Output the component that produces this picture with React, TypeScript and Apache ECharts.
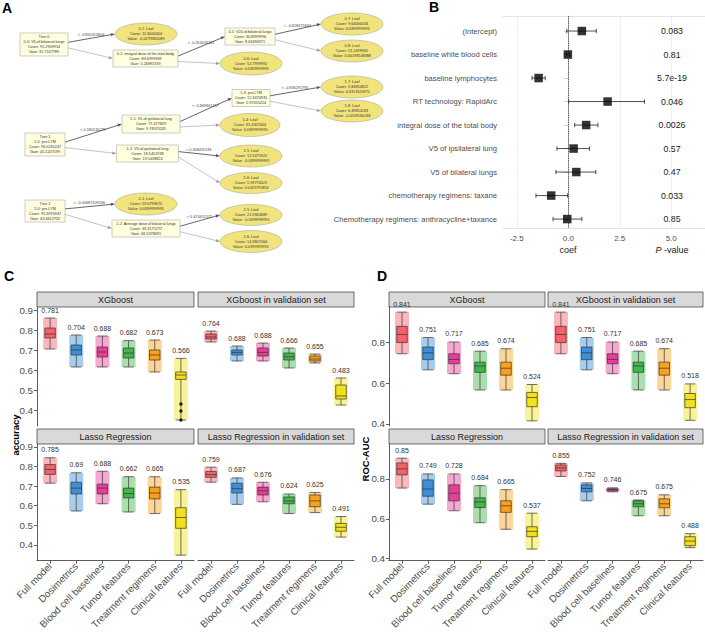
import React, { useEffect, useRef } from 'react';
import * as echarts from 'echarts';

const FONT = '"Liberation Sans", Arial, Helvetica, sans-serif';

// ---------------- Panel A: XGBoost trees ----------------
const treeNodeIds = ['T0','0-1','0-2','0-5','0-6','0-7','0-8','T1','1-1','1-2','1-3','1-4','1-5','1-6','1-7','1-8','T2','2-1','2-2','2-5','2-6'];
const treeNodeKinds = ['split','leaf','split','split','leaf','leaf','leaf','split','split','split','split','leaf','leaf','leaf','leaf','leaf','split','leaf','split','leaf','leaf'];
const treeNodeTexts = [
  ['Tree 0','0-0: V5.of.bilateral.lungs','Cover: 95.2909954','Gain: 31.7147789'],
  ['0-1: Leaf','Cover: 11.8000004','Value: -0.0279365089'],
  ['0-2: integral.dose.of.the.total.body','Cover: 83.6999969','Gain: 5.26895749'],
  ['0-5: V20.of.bilateral.lungs','Cover: 30.8999996','Gain: 8.63496971'],
  ['0-6: Leaf','Cover: 52.7999992','Value: 0.0399999991'],
  ['0-7: Leaf','Cover: 9.64000034','Value: 0.0399999991'],
  ['0-8: Leaf','Cover: 21.2499962','Value: 0.00198548388'],
  ['Tree 1','1-0: pre.LYM','Cover: 96.0231247','Gain: 45.1207199'],
  ['1-1: V5.of.ipsilateral.lung','Cover: 77.477829','Gain: 9.74970245'],
  ['1-2: V5.of.ipsilateral.lung','Cover: 18.5452938','Gain: 19.5438824'],
  ['1-3: pre.LYM','Cover: 12.3470935','Gain: 5.97055224'],
  ['1-4: Leaf','Cover: 65.4307404','Value: 0.0399999991'],
  ['1-5: Leaf','Cover: 12.5475922','Value: -0.0399999991'],
  ['1-6: Leaf','Cover: 5.99770021','Value: 0.0329795852'],
  ['1-7: Leaf','Cover: 5.84854822','Value: 0.0313520971'],
  ['1-8: Leaf','Cover: 6.49854183','Value: -0.0209560246'],
  ['Tree 2','2-0: pre.LYM','Cover: 95.3970947','Gain: 43.4612732'],
  ['2-1: Leaf','Cover: 59.0799675','Value: 0.0399999991'],
  ['2-2: Average dose of bilateral lungs','Cover: 36.3171272','Gain: 46.5378091'],
  ['2-5: Leaf','Cover: 21.9363689','Value: -0.0399999991'],
  ['2-6: Leaf','Cover: 14.3807564','Value: 0.0399999991'],
];
const treeEdgeFrom = ['T0','T0','0-2','0-2','0-5','0-5','T1','T1','1-1','1-1','1-3','1-3','1-2','1-2','T2','T2','2-2','2-2'];
const treeEdgeTo = ['0-1','0-2','0-5','0-6','0-7','0-8','1-1','1-2','1-3','1-4','1-7','1-8','1-5','1-6','2-1','2-2','2-5','2-6'];
const treeEdgeLabels = ['< -0.850313604', null, '< -0.354033113', null, '< -0.658679464', null,
  '< 0.580240279', null, '< -0.869841457', null, '< -0.836291795', null, '< 0.308459133', null,
  '< -0.00687209558', null, '< 0.474451572', null];

// diagram layout (centre x, centre y, width, height) in pixels
const NODE_BOX: Record<string, number[]> = {
  'T0': [44, 44.5, 48, 23], '0-1': [146, 34, 62, 22], '0-2': [145.5, 58.5, 65, 17],
  '0-5': [250, 36.5, 50, 17], '0-6': [251, 63.5, 62, 23], '0-7': [352, 24, 62, 22], '0-8': [352, 51, 62, 22],
  'T1': [45, 144.5, 40, 23], '1-1': [151, 124, 58, 18], '1-2': [147.5, 153.5, 62, 17],
  '1-3': [251, 98, 38, 17], '1-4': [250, 125, 60, 23], '1-5': [251, 156, 62, 22], '1-6': [251, 183, 62, 21],
  '1-7': [352, 87, 62, 22], '1-8': [352, 111, 62, 22],
  'T2': [45, 211, 40, 22], '2-1': [146, 204, 62, 22], '2-2': [146, 228.5, 68, 17],
  '2-5': [251, 215, 62, 21], '2-6': [251, 241.5, 62, 22],
};

// ---------------- Panel B: forest plot ----------------
const forestTerms = ['(Intercept)','baseline white blood cells','baseline lymphocytes','RT technology: RapidArc',
  'integral dose of the total body','V5 of ipsilateral lung','V5 of bilateral lungs','chemotherapy regimens: taxane',
  'Chemotherapy regimens: anthracycline+taxance'];
const forestCoef = [0.66, -0.02, -1.44, 1.91, 0.87, 0.26, 0.39, -0.83, -0.05];
const forestLow = [-0.07, -0.09, -1.76, 0.02, 0.31, -0.55, -0.60, -1.57, -0.74];
const forestHigh = [1.36, 0.05, -1.12, 3.70, 1.44, 1.03, 1.34, -0.03, 0.66];
const forestP = ['0.083','0.81','5.7e-19','0.046','0.0026','0.57','0.47','0.033','0.85'];
const forestTicks = [-2.5, 0, 2.5, 5];

// ---------------- Panels C & D: boxplots ----------------
const featureGroups = ['Full model','Dosimetrics','Blood cell baselines','Tumor features','Treatment regimens','Clinical features'];
const groupColors = ['#F4616A','#3F8FD6','#E83E97','#43B649','#F9A11B','#F3E21B'];
const facetTitles = ['XGboost','XGboost in validation set','Lasso Regression','Lasso Regression in validation set'];

// [min, Q1, median, Q3, max]
const accXgb = [[0.705,0.76,0.78,0.81,0.86],[0.615,0.675,0.70,0.725,0.775],[0.615,0.665,0.69,0.715,0.77],[0.615,0.66,0.685,0.71,0.747],[0.59,0.65,0.675,0.70,0.75],[0.35,0.553,0.575,0.59,0.658]];
const accXgbLabels = [0.781,0.704,0.688,0.682,0.673,0.566];
const accXgbVal = [[0.74,0.755,0.765,0.78,0.795],[0.645,0.675,0.688,0.70,0.72],[0.645,0.67,0.688,0.71,0.735],[0.61,0.65,0.666,0.685,0.71],[0.635,0.645,0.655,0.67,0.68],[0.425,0.455,0.47,0.525,0.56]];
const accXgbValLabels = [0.764,0.688,0.688,0.666,0.655,0.483];
const accLasso = [[0.715,0.76,0.785,0.81,0.845],[0.573,0.66,0.69,0.72,0.768],[0.61,0.66,0.69,0.71,0.776],[0.568,0.64,0.662,0.69,0.748],[0.56,0.635,0.665,0.695,0.748],[0.348,0.485,0.54,0.59,0.682]];
const accLassoLabels = [0.785,0.69,0.688,0.662,0.665,0.535];
const accLassoVal = [[0.72,0.745,0.759,0.775,0.797],[0.607,0.665,0.687,0.715,0.742],[0.62,0.655,0.676,0.695,0.72],[0.56,0.61,0.624,0.645,0.66],[0.565,0.595,0.625,0.655,0.668],[0.44,0.47,0.49,0.51,0.545]];
const accLassoValLabels = [0.759,0.687,0.676,0.624,0.625,0.491];
const accOutliers = [[5, 0.43],[5, 0.395],[5, 0.35]]; // XGboost, clinical features

const aucXgb = [[0.745,0.80,0.84,0.88,0.95],[0.666,0.716,0.75,0.778,0.825],[0.647,0.696,0.717,0.745,0.803],[0.567,0.654,0.685,0.704,0.758],[0.567,0.64,0.674,0.704,0.77],[0.415,0.485,0.53,0.555,0.594]];
const aucXgbLabels = [0.841,0.751,0.717,0.685,0.674,0.524];
const aucXgbVal = [[0.745,0.80,0.84,0.88,0.95],[0.666,0.716,0.75,0.778,0.825],[0.647,0.696,0.717,0.745,0.803],[0.567,0.654,0.685,0.704,0.758],[0.567,0.64,0.674,0.704,0.77],[0.418,0.48,0.52,0.55,0.597]];
const aucXgbValLabels = [0.841,0.751,0.717,0.685,0.674,0.518];
const aucLasso = [[0.754,0.82,0.85,0.88,0.904],[0.673,0.713,0.749,0.795,0.825],[0.64,0.69,0.728,0.77,0.825],[0.58,0.656,0.684,0.705,0.766],[0.547,0.632,0.665,0.69,0.746],[0.448,0.51,0.537,0.56,0.628]];
const aucLassoLabels = [0.85,0.749,0.728,0.684,0.665,0.537];
const aucLassoVal = [[0.812,0.84,0.855,0.87,0.878],[0.69,0.735,0.752,0.77,0.78],[0.735,0.74,0.746,0.75,0.755],[0.615,0.66,0.675,0.69,0.694],[0.615,0.655,0.675,0.70,0.72],[0.455,0.465,0.488,0.51,0.525]];
const aucLassoValLabels = [0.855,0.752,0.746,0.675,0.675,0.488];

const accTicks = [0.4, 0.5, 0.6, 0.7, 0.8, 0.9];
const aucTicks = [0.4, 0.6, 0.8];

function buildOption() {
  const grids: any[] = [];
  const xAxes: any[] = [];
  const yAxes: any[] = [];
  const series: any[] = [];
  const graphics: any[] = [];

  // ---------- panel letters ----------
  const letters: [string, number, number][] = [['A', 2, 1], ['B', 429, 0], ['C', 4, 269], ['D', 377, 269]];
  letters.forEach(([t, x, y]) => graphics.push({
    type: 'text', x, y, style: { text: t, fontSize: 14, fontWeight: 'bold', fill: '#000', fontFamily: FONT, align: 'left', verticalAlign: 'top' },
  }));

  // ---------- panel A ----------
  treeEdgeFrom.forEach((from, i) => {
    const to = treeEdgeTo[i];
    const lab = treeEdgeLabels[i];
    const s = NODE_BOX[from];
    const t = NODE_BOX[to];
    const yes = lab !== null;
    const x1 = s[0] + s[2] / 2 - 1, y1 = s[1] + (yes ? -2 : 3);
    const x2 = t[0] - t[2] / 2, y2 = t[1];
    const ang = Math.atan2(y2 - y1, x2 - x1);
    const L = 4.2, W = 1.6;
    const bx = x2 - L * Math.cos(ang), by = y2 - L * Math.sin(ang);
    const col = yes ? '#555' : '#9a9a9a';
    graphics.push({ type: 'line', shape: { x1, y1, x2: bx, y2: by }, style: { stroke: col, lineWidth: yes ? 0.9 : 0.6 } });
    graphics.push({ type: 'polygon', shape: { points: [[x2, y2], [bx - W * Math.sin(ang), by + W * Math.cos(ang)], [bx + W * Math.sin(ang), by - W * Math.cos(ang)]] }, style: { fill: col } });
    if (lab) {
      graphics.push({ type: 'text', x: (x1 + x2) / 2, y: (y1 + y2) / 2 - 3.6, style: { text: lab, fontSize: 3.8, fill: '#444', align: 'center', verticalAlign: 'middle', fontFamily: FONT } });
    }
  });
  treeNodeIds.forEach((id, i) => {
    const b = NODE_BOX[id];
    if (treeNodeKinds[i] === 'leaf') {
      graphics.push({ type: 'ellipse', shape: { cx: b[0], cy: b[1], rx: b[2] / 2, ry: b[3] / 2 }, style: { fill: '#F2E47C', stroke: '#9a9a9a', lineWidth: 0.5 } });
    } else {
      graphics.push({ type: 'rect', shape: { x: b[0] - b[2] / 2, y: b[1] - b[3] / 2, width: b[2], height: b[3] }, style: { fill: '#FFFFE0', stroke: '#9a9a9a', lineWidth: 0.5 } });
    }
    graphics.push({ type: 'text', x: b[0], y: b[1], style: { text: treeNodeTexts[i].join('\n'), fontSize: 3.8, lineHeight: 5, fill: '#333', align: 'center', verticalAlign: 'middle', fontFamily: FONT } });
  });

  // ---------- panel B ----------
  grids.push({ left: 503, top: 16, width: 202, height: 212 });
  const fxMin = -3.17, fxMax = 6.64;
  xAxes.push({
    type: 'value', gridIndex: 0, min: fxMin, max: fxMax,
    axisLine: { show: true, lineStyle: { color: '#e3e3e3', width: 1 } },
    axisTick: { show: false, customValues: forestTicks },
    axisLabel: { customValues: forestTicks, formatter: (v: number) => '{t|' + v.toFixed(1) + '}', rich: { t: { fontSize: 8, color: '#4d4d4d', fontFamily: FONT } }, margin: 6 },
    splitLine: { show: true, lineStyle: { color: '#ececec', width: 0.8 } },
  });
  xAxes.push({
    type: 'value', gridIndex: 0, min: fxMin, max: fxMax, position: 'top',
    axisLine: { show: true, lineStyle: { color: '#e3e3e3', width: 1 } },
    axisTick: { show: false }, axisLabel: { show: false }, splitLine: { show: false },
  });
  const rowVals = forestTerms.map((_, i) => i + 1);
  const rowMin = 0.36, rowMax = 9.38;
  yAxes.push({
    type: 'value', gridIndex: 0, min: rowMin, max: rowMax, inverse: true,
    axisLine: { show: true, lineStyle: { color: '#c8c8c8', width: 0.8 } },
    axisTick: { show: true, length: 4, customValues: rowVals, lineStyle: { color: '#c8c8c8' } },
    axisLabel: {
      customValues: rowVals, margin: 6, color: '#4d4d4d',
      formatter: (v: number) => '{t|' + forestTerms[Math.round(v) - 1] + '}',
      rich: { t: { fontSize: 7.6, color: '#4d4d4d', fontFamily: FONT } },
    },
    splitLine: { show: false },
  });
  yAxes.push({
    type: 'value', gridIndex: 0, min: rowMin, max: rowMax, inverse: true, position: 'right',
    axisLine: { show: false }, axisTick: { show: false },
    axisLabel: {
      inside: true, margin: 33, align: 'center', customValues: rowVals, color: '#1a1a1a',
      formatter: (v: number) => '{p|' + forestP[Math.round(v) - 1] + '}',
      rich: { p: { fontSize: 8.8, color: '#1a1a1a', fontFamily: FONT } },
    },
    splitLine: { show: false },
  });
  series.push({
    type: 'custom', xAxisIndex: 0, yAxisIndex: 0, z: 3,
    data: forestTerms.map((_, i) => [forestLow[i], forestHigh[i], i + 1]),
    renderItem: (params: any, api: any) => {
      const lo = api.coord([api.value(0), api.value(2)]);
      const hi = api.coord([api.value(1), api.value(2)]);
      const h = 2.2;
      const st = { stroke: '#222', lineWidth: 0.8 };
      return {
        type: 'group', children: [
          { type: 'line', shape: { x1: lo[0], y1: lo[1], x2: hi[0], y2: hi[1] }, style: st },
          { type: 'line', shape: { x1: lo[0], y1: lo[1] - h, x2: lo[0], y2: lo[1] + h }, style: st },
          { type: 'line', shape: { x1: hi[0], y1: hi[1] - h, x2: hi[0], y2: hi[1] + h }, style: st },
        ],
      };
    },
  });
  series.push({
    type: 'scatter', xAxisIndex: 0, yAxisIndex: 0, z: 4,
    symbol: 'rect', symbolSize: 8.5, itemStyle: { color: '#000' },
    data: forestCoef.map((c, i) => [c, i + 1]),
    markLine: {
      silent: true, symbol: 'none', label: { show: false },
      lineStyle: { type: 'dotted', color: '#333', width: 0.9 },
      data: [{ xAxis: 0 }],
    },
  });
  graphics.push({ type: 'text', x: 568, y: 250, style: { text: 'coef', fontSize: 9, fill: '#1a1a1a', align: 'center', verticalAlign: 'middle', fontFamily: FONT } });
  graphics.push({ type: 'text', x: 672, y: 250, style: { text: '{i|P} -value', fontSize: 9, fill: '#1a1a1a', align: 'center', verticalAlign: 'middle', fontFamily: FONT, rich: { i: { fontStyle: 'italic', fontSize: 9, fontFamily: FONT, fill: '#1a1a1a' } } } });

  // ---------- panels C & D ----------
  const facets = [
    { stats: accXgb, labels: accXgbLabels, left: 37, width: 157, top: 307, col: 0, row: 0, range: [0.32, 0.915], ticks: accTicks, outliers: accOutliers },
    { stats: accXgbVal, labels: accXgbValLabels, left: 198, width: 156, top: 307, col: 1, row: 0, range: [0.32, 0.915], ticks: accTicks, outliers: [] },
    { stats: accLasso, labels: accLassoLabels, left: 37, width: 157, top: 444, col: 0, row: 1, range: [0.32, 0.915], ticks: accTicks, outliers: [] },
    { stats: accLassoVal, labels: accLassoValLabels, left: 198, width: 156, top: 444, col: 1, row: 1, range: [0.32, 0.915], ticks: accTicks, outliers: [] },
    { stats: aucXgb, labels: aucXgbLabels, left: 389, width: 156, top: 307, col: 0, row: 0, range: [0.39, 0.975], ticks: aucTicks, outliers: [] },
    { stats: aucXgbVal, labels: aucXgbValLabels, left: 548, width: 155, top: 307, col: 1, row: 0, range: [0.39, 0.975], ticks: aucTicks, outliers: [] },
    { stats: aucLasso, labels: aucLassoLabels, left: 389, width: 156, top: 444, col: 0, row: 1, range: [0.39, 0.975], ticks: aucTicks, outliers: [] },
    { stats: aucLassoVal, labels: aucLassoValLabels, left: 548, width: 155, top: 444, col: 1, row: 1, range: [0.39, 0.975], ticks: aucTicks, outliers: [] },
  ];
  const H = 119;
  const axisCol = '#333';
  facets.forEach((f) => {
    const g = grids.length;
    grids.push({ left: f.left, top: f.top, width: f.width, height: H });
    const xi = xAxes.length;
    const yi = yAxes.length;
    const bottom = f.row === 1;
    const leftCol = f.col === 0;
    xAxes.push({
      type: 'category', gridIndex: g, data: featureGroups,
      axisLine: { show: bottom, lineStyle: { color: axisCol, width: 0.8 } },
      axisTick: { show: bottom, length: 3, alignWithLabel: true, lineStyle: { color: axisCol, width: 0.8 } },
      axisLabel: { show: bottom, rotate: 45, interval: 0, fontSize: 9.8, color: '#4d4d4d', margin: 4, fontFamily: FONT },
      splitLine: { show: false },
    });
    yAxes.push({
      type: 'value', gridIndex: g, min: f.range[0], max: f.range[1],
      axisLine: { show: leftCol, lineStyle: { color: axisCol, width: 0.8 } },
      axisTick: { show: leftCol, length: 3, customValues: f.ticks, lineStyle: { color: axisCol, width: 0.8 } },
      axisLabel: { show: leftCol, customValues: f.ticks, fontSize: 9.8, color: '#4d4d4d', margin: 4, fontFamily: FONT },
      splitLine: { show: false },
    });
    // strip
    graphics.push({ type: 'rect', shape: { x: f.left, y: f.top - 15, width: f.width, height: 15 }, style: { fill: '#D9D9D9', stroke: '#333', lineWidth: 0.7 } });
    graphics.push({ type: 'text', x: f.left + f.width / 2, y: f.top - 7.5, style: { text: facetTitles[f.row * 2 + f.col], fontSize: 9, fill: '#1a1a1a', align: 'center', verticalAlign: 'middle', fontFamily: FONT } });

    // jitter cloud (min..max)
    series.push({
      type: 'custom', xAxisIndex: xi, yAxisIndex: yi, z: 1,
      data: f.stats.map((s, i) => [i, s[0], s[4]]),
      renderItem: (params: any, api: any) => {
        const cat = api.value(0);
        const top = api.coord([cat, api.value(2)]);
        const bot = api.coord([cat, api.value(1)]);
        const w = 14;
        return { type: 'rect', shape: { x: top[0] - w / 2, y: top[1], width: w, height: bot[1] - top[1] }, style: { fill: groupColors[cat], opacity: 0.45 } };
      },
    });
    series.push({
      type: 'boxplot', xAxisIndex: xi, yAxisIndex: yi, z: 2, boxWidth: [10.5, 10.5],
      data: f.stats.map((s, i) => ({ value: s, itemStyle: { color: groupColors[i], borderColor: '#333', borderWidth: 0.7 } })),
    });
    if (f.outliers.length) {
      series.push({ type: 'scatter', xAxisIndex: xi, yAxisIndex: yi, z: 3, symbolSize: 3.5, itemStyle: { color: '#000' }, data: f.outliers });
    }
    series.push({
      type: 'custom', xAxisIndex: xi, yAxisIndex: yi, z: 4,
      data: f.stats.map((s, i) => [i, s[4], f.labels[i]]),
      renderItem: (params: any, api: any) => {
        const p = api.coord([api.value(0), api.value(1)]);
        return { type: 'text', x: p[0], y: p[1] - 4.5, style: { text: String(api.value(2)), fontSize: 7, fill: '#333', align: 'center', verticalAlign: 'bottom', fontFamily: FONT } };
      },
    });
  });

  // axis titles
  graphics.push({ type: 'text', x: 15, y: 435, rotation: Math.PI / 2, style: { text: 'accuracy', fontSize: 9.5, fontWeight: 'bold', fill: '#000', align: 'center', verticalAlign: 'middle', fontFamily: FONT } });
  graphics.push({ type: 'text', x: 365.5, y: 459, rotation: Math.PI / 2, style: { text: 'ROC-AUC', fontSize: 9.5, fontWeight: 'bold', fill: '#000', align: 'center', verticalAlign: 'middle', fontFamily: FONT } });

  return {
    animation: false,
    backgroundColor: '#fff',
    textStyle: { fontFamily: FONT },
    grid: grids,
    xAxis: xAxes,
    yAxis: yAxes,
    series,
    graphic: { elements: graphics },
  };
}

export default function App() {
  const ref = useRef<HTMLDivElement>(null);
  useEffect(() => {
    if (!ref.current) return;
    const chart = echarts.init(ref.current, undefined, { renderer: 'svg' });
    chart.setOption(buildOption() as any);
    return () => chart.dispose();
  }, []);
  return <div ref={ref} style={{ position: 'absolute', left: 0, top: 0, width: 705, height: 632, background: '#fff' }} />;
}
